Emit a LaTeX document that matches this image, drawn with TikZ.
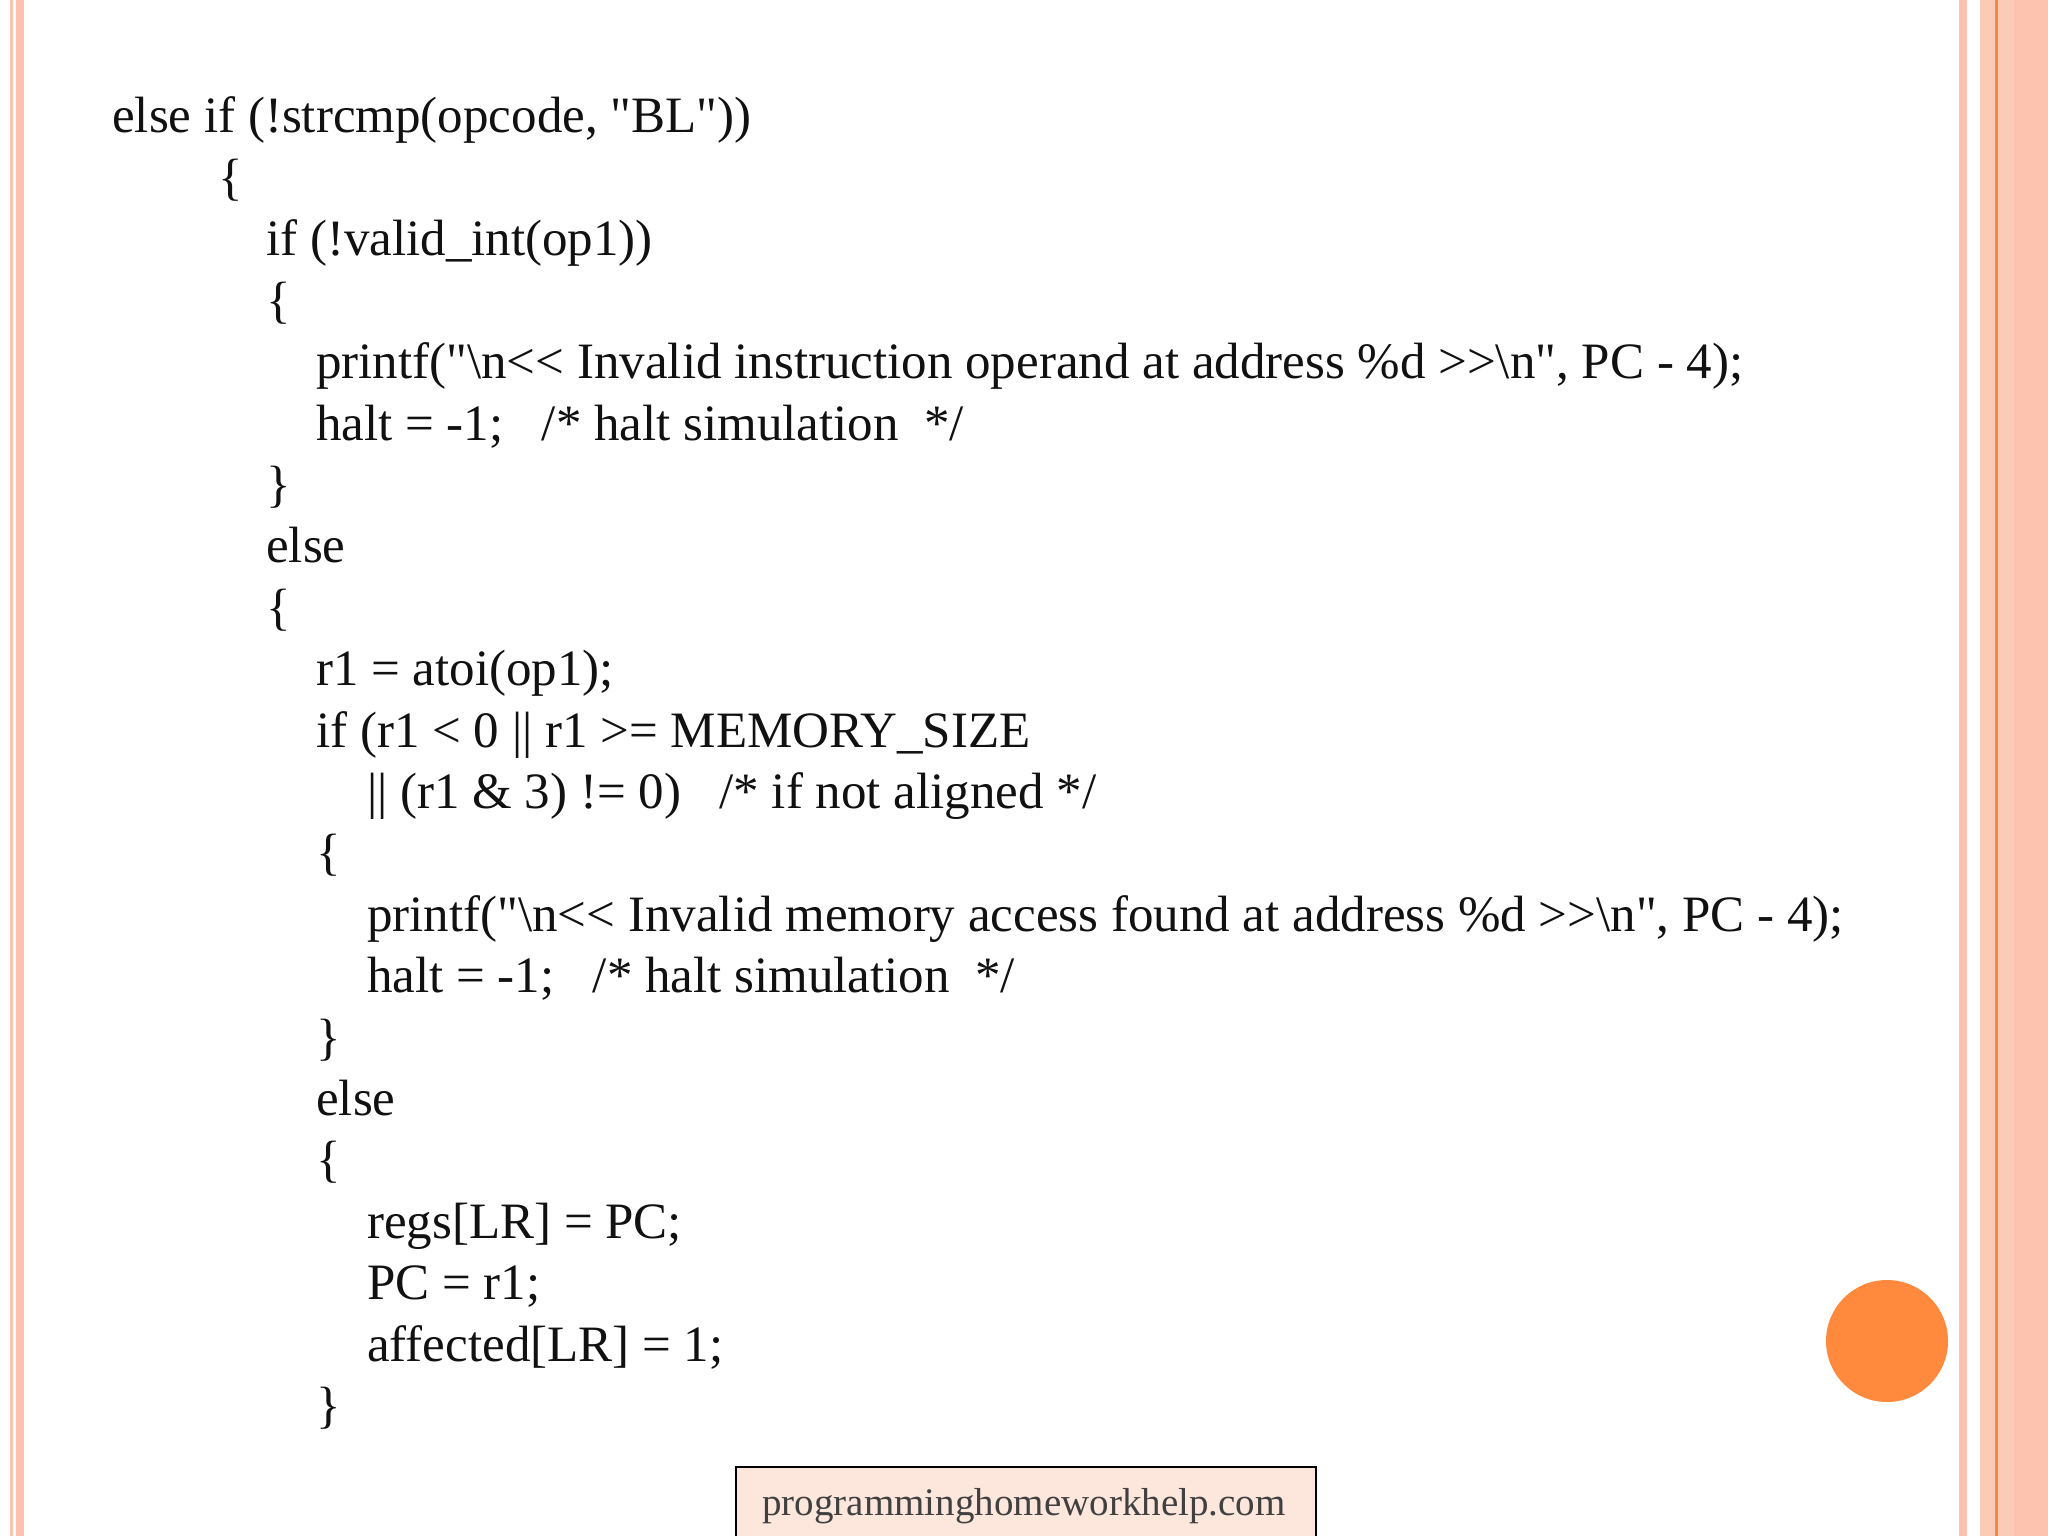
\documentclass[tikz,border=0pt]{standalone}
\usepackage{fontspec}
\setmainfont{Liberation Serif}[Ligatures=TeXOff]
\definecolor{pk}{HTML}{FDC3AE}
\definecolor{pk2}{HTML}{FBCBB7}
\definecolor{orl}{HTML}{F5873F}
\definecolor{circ}{HTML}{FF8A3D}
\definecolor{boxf}{HTML}{FDE6DC}
\definecolor{txt}{HTML}{111111}
\begin{document}
\begin{tikzpicture}[x=1pt,y=-1pt,
  code/.style={anchor=base west,inner sep=0pt,font=\fontsize{51}{60}\selectfont,text=txt}]
\useasboundingbox (0,0) rectangle (2048,1536);
\fill[white] (0,0) rectangle (2048,1536);
% borders
\fill[pk] (10,0) rectangle (13,1536);
\fill[pk] (16,0) rectangle (24,1536);
\fill[pk] (1959,0) rectangle (1967,1536);
\fill[pk2] (1980,0) rectangle (2048,1536);
\fill[pk] (2014,0) rectangle (2048,1536);
\fill[orl] (1995,0) rectangle (1998,1536);
% code
\newcommand\codeln[4]{\pgfmathsetmacro\yy{133+61.4*(#2-1)}\node[code] (#1) at (#3,\yy) {#4};}
\codeln{l1}{1}{112}{else if (!strcmp(opcode, "BL"))}
\codeln{l2}{2}{218}{\{}
\codeln{l3}{3}{266}{if (!valid\_int(op1))}
\codeln{l4}{4}{266}{\{}
\codeln{l5}{5}{316}{printf("\textbackslash n<< Invalid instruction operand at address \%d >>\textbackslash n", PC - 4);}
\codeln{l6}{6}{316}{halt = -1;\ \ \ /* halt simulation\ \ */}
\codeln{l7}{7}{266}{\}}
\codeln{l8}{8}{266}{else}
\codeln{l9}{9}{266}{\{}
\codeln{l10}{10}{316}{r1 = atoi(op1);}
\codeln{l11}{11}{316}{if (r1 < 0 || r1 >= MEMORY\_SIZE}
\codeln{l12}{12}{367}{|| (r1 \& 3) != 0)\ \ \ /* if not aligned */}
\codeln{l13}{13}{316}{\{}
\codeln{l14}{14}{367}{printf("\textbackslash n<< Invalid memory access found at address \%d >>\textbackslash n", PC - 4);}
\codeln{l15}{15}{367}{halt = -1;\ \ \ /* halt simulation\ \ */}
\codeln{l16}{16}{316}{\}}
\codeln{l17}{17}{316}{else}
\codeln{l18}{18}{316}{\{}
\codeln{l19}{19}{367}{regs[LR] = PC;}
\codeln{l20}{20}{367}{PC = r1;}
\codeln{l21}{21}{367}{affected[LR] = 1;}
\codeln{l22}{22}{316}{\}}
% circle
\node[circle,fill=circ,minimum size=122pt,inner sep=0pt] (dot) at (1887,1341) {};
% footer
\draw[line width=2pt,fill=boxf] (736,1467) rectangle (1316,1545);
\node[anchor=base,inner sep=0pt,font=\fontsize{39}{44}\selectfont,text=black!75] (web) at (1024,1515) {programminghomeworkhelp.com};
\end{tikzpicture}
\end{document}
